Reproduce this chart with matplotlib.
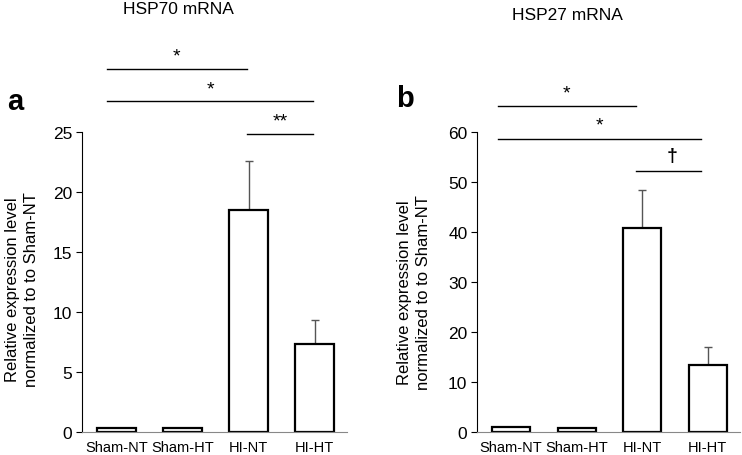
import matplotlib
matplotlib.use("Agg")
import matplotlib.pyplot as plt
import numpy as np

plt.rcParams['font.family'] = ['Liberation Sans', 'DejaVu Sans']

groups = ['Sham-NT', 'Sham-HT', 'HI-NT', 'HI-HT']
hsp70 = [0.3, 0.35, 18.5, 7.35]
hsp70_err = [0, 0, 4.1, 1.95]
hsp27 = [1.0, 0.8, 40.8, 13.4]
hsp27_err = [0, 0, 7.6, 3.6]

ylabel = 'Relative expression level\nnormalized to to Sham-NT'

fig = plt.figure(figsize=(7.42, 4.56), dpi=100)
ax1 = fig.add_axes([0.1105, 0.0504, 0.3572, 0.658])
ax2 = fig.add_axes([0.643, 0.0504, 0.354, 0.658])

x = np.arange(len(groups))


def draw(ax, vals, errs, ymax, step):
    ax.bar(x, vals, 0.58, color='white', edgecolor='black', linewidth=1.6, zorder=2)
    ax.errorbar(x[2:], vals[2:], yerr=[np.zeros(2), errs[2:]], fmt='none',
                ecolor='#555555', elinewidth=1.0, capsize=3, capthick=1.0, zorder=1)
    ax.set_xlim(-0.52, 3.49)
    ax.set_ylim(0, ymax)
    ax.set_yticks(np.arange(0, ymax + 1, step))
    ax.set_xticks(x)
    ax.set_xticklabels(groups, fontsize=10.5)
    ax.tick_params(axis='x', length=0, pad=6)
    ax.tick_params(axis='y', labelsize=12.5, length=4, width=0.8, pad=3)
    for s in ['top', 'right']:
        ax.spines[s].set_visible(False)
    ax.spines['bottom'].set_color('#888888')
    ax.spines['left'].set_linewidth(0.8)


def bracket(ax, x0, x1, y, label, ty):
    ax.plot([x0, x1], [y, y], color='black', lw=1.0, clip_on=False)
    ax.text((x0 + x1) / 2, ty, label, ha='center', va='center',
            fontsize=14, clip_on=False)


draw(ax1, hsp70, hsp70_err, 25, 5)
draw(ax2, hsp27, hsp27_err, 60, 10)

# significance lines
bracket(ax1, -0.14, 1.97, 30.25, '*', 31.3)
bracket(ax1, -0.14, 2.98, 27.6, '*', 28.6)
bracket(ax1, 1.97, 2.98, 24.8, '**', 25.9)

bracket(ax2, -0.2, 1.9, 65.2, '*', 67.8)
bracket(ax2, -0.2, 2.9, 58.6, '*', 61.3)
ax2.plot([1.9, 2.9], [52.2, 52.2], color='black', lw=1.0, clip_on=False)
ax2.text(2.45, 55.2, '\u2020', ha='center', va='center', fontsize=14,
         fontweight='bold', clip_on=False)

fig.text(178 / 742, 1 - 10 / 456, 'HSP70 mRNA', ha='center', va='center', fontsize=12.5)
fig.text(567 / 742, 1 - 15 / 456, 'HSP27 mRNA', ha='center', va='center', fontsize=12.5)
fig.text(15 / 742, 1 - 102 / 456, 'a', ha='center', va='center', fontsize=21, fontweight='bold')
fig.text(405 / 742, 1 - 99 / 456, 'b', ha='center', va='center', fontsize=21, fontweight='bold')

fig.text(22 / 742, 1 - 290 / 456, ylabel, rotation=90, ha='center', va='center',
         fontsize=12, multialignment='center', linespacing=1.3)
fig.text(414 / 742, 1 - 293 / 456, ylabel, rotation=90, ha='center', va='center',
         fontsize=12, multialignment='center', linespacing=1.3)

fig.savefig('out.png', dpi=100)
